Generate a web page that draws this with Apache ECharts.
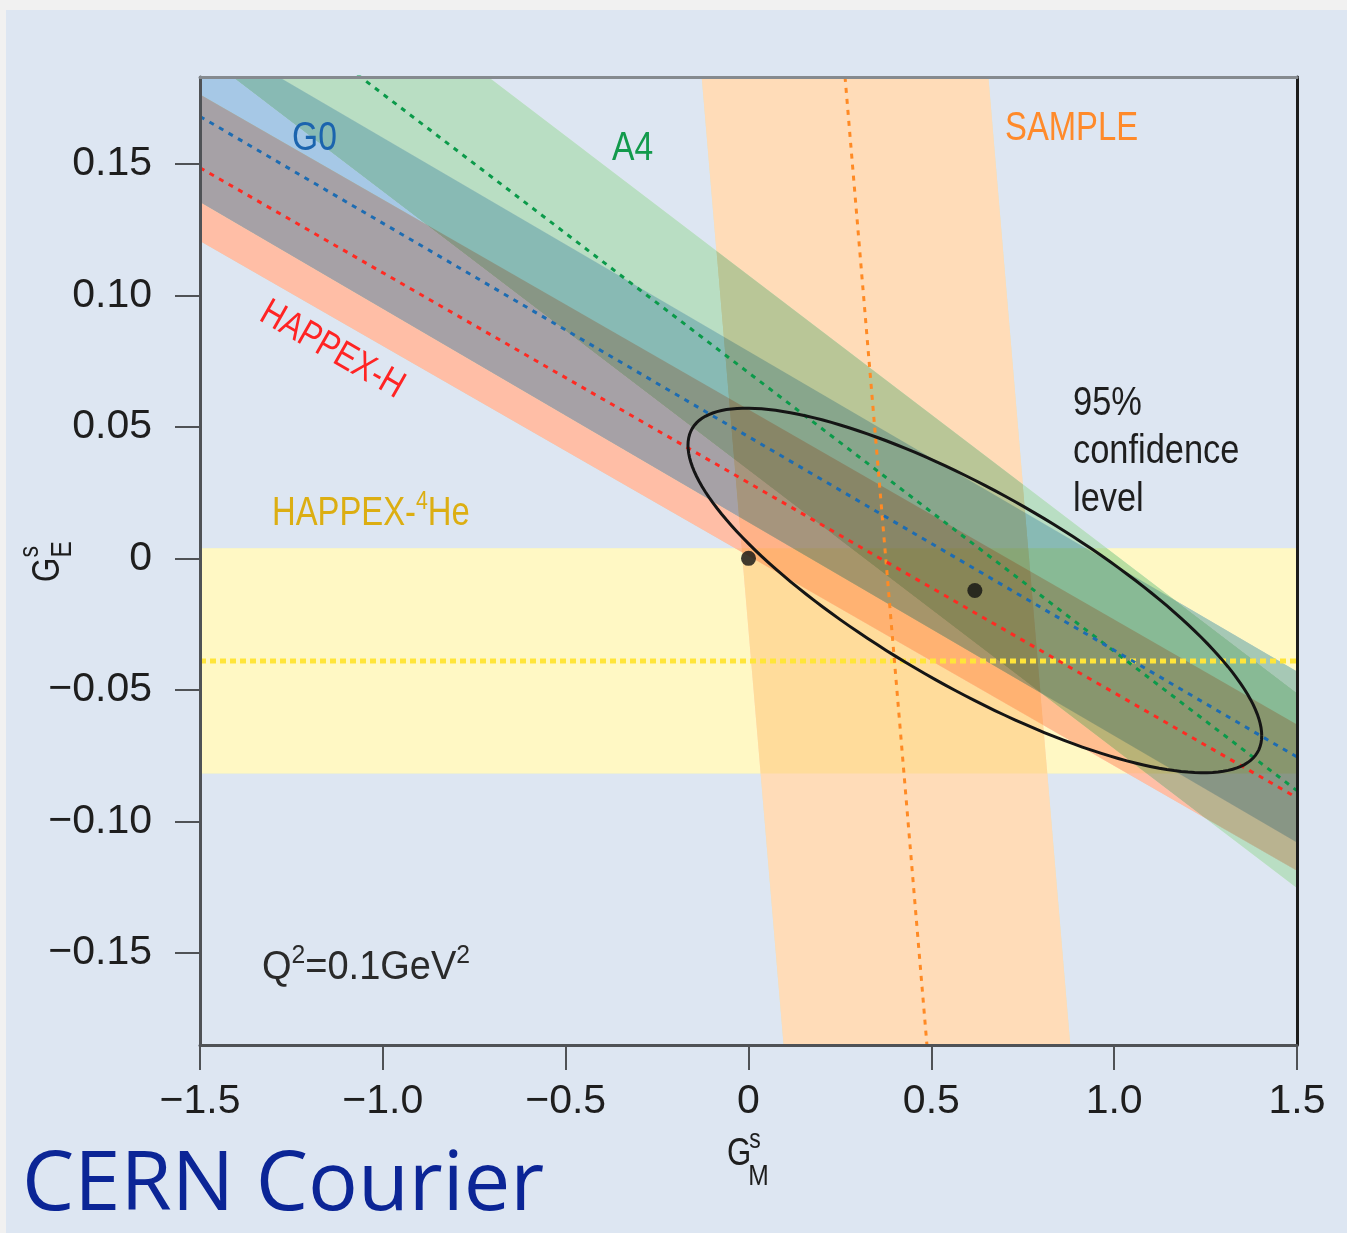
<!DOCTYPE html>
<html>
<head>
<meta charset="utf-8">
<title>Strange form factors at Q2 = 0.1 GeV2</title>
<script src="https://cdn.jsdelivr.net/npm/echarts@6/dist/echarts.min.js"></script>
<style>
  html, body { margin: 0; padding: 0; background: #dde6f2; }
  #chart { width: 1347px; height: 1233px; }
  /* every band has two canvases: a soft multiply pass, then a darken pass */
  #chart canvas[data-zr-dom-id="zr_1"],
  #chart canvas[data-zr-dom-id="zr_3"],
  #chart canvas[data-zr-dom-id="zr_5"],
  #chart canvas[data-zr-dom-id="zr_7"],
  #chart canvas[data-zr-dom-id="zr_9"] { mix-blend-mode: multiply; opacity: 0.75; }
  #chart canvas[data-zr-dom-id="zr_2"],
  #chart canvas[data-zr-dom-id="zr_4"],
  #chart canvas[data-zr-dom-id="zr_6"],
  #chart canvas[data-zr-dom-id="zr_8"],
  #chart canvas[data-zr-dom-id="zr_10"] { mix-blend-mode: darken; }
</style>
</head>
<body>
<div id="chart"></div>
<script>
// centre lines of the bands, as (G_M^s, G_E^s) end points
const g0Line = [[-1.5, 0.168], [1.5, -0.0755]];
const a4Line = [[-1.5, 0.2295], [1.5, -0.0883]];
const happexHLine = [[-1.5, 0.1485], [1.5, -0.091]];
const happexHeLine = [[-1.5, -0.039], [1.5, -0.039]];
const sampleLine = [[0.264, 0.183], [0.488, -0.185]];

// band half widths (SAMPLE is measured along G_M^s, the rest along G_E^s)
const bandNames = ['HAPPEX-4He', 'SAMPLE', 'A4', 'G0', 'HAPPEX-H'];
const bandLines = [happexHeLine, sampleLine, a4Line, g0Line, happexHLine];
const bandHalfWidths = [0.0428, 0.392, 0.037, 0.0325, 0.0278];
const bandAlongX = [false, true, false, false, false];

const bandColors = ['#fff8c4', '#ffdcb8', '#b9dec3', '#a6c8e6', '#ffbea6'];
const lineColors = ['#ffe53a', '#ff8a24', '#0b9a4a', '#1d6cb2', '#ff2a22'];

// best fit and the (0,0) point, plus the 95% ellipse (centre + conjugate semi-diameters)
const fitPoints = [[0, 0], [0.619, -0.0122]];
const ellipseCenter = [0.619, -0.0122];
const ellipseAxisA = [0.7845, -0.0552];
const ellipseAxisB = [0, 0.0419];

const xTicks = [-1.5, -1, -0.5, 0, 0.5, 1, 1.5];
const xTickLabels = ['\u22121.5', '\u22121.0', '\u22120.5', '0', '0.5', '1.0', '1.5'];
const yTicks = [-0.15, -0.1, -0.05, 0, 0.05, 0.1, 0.15];
const yTickLabels = ['\u22120.15', '\u22120.10', '\u22120.05', '0', '0.05', '0.10', '0.15'];

const sans = "'Liberation Sans', Arial, sans-serif";
const axisColor = '#4f5256';
const textColor = '#1e1e1e';
const TOP = 11; // zlevel for lines, axes and text
const narrowX = 0.82; // squeeze for the condensed lettering

function tickLabel(ticks, labels) {
  return v => {
    const k = ticks.findIndex(t => Math.abs(t - v) < 1e-9);
    return k >= 0 ? labels[k] : '';
  };
}

function bandPolygon(i) {
  const p0 = bandLines[i][0], p1 = bandLines[i][1];
  const h = bandHalfWidths[i];
  if (bandAlongX[i]) {
    return [[p0[0] - h, p0[1]], [p1[0] - h, p1[1]], [p1[0] + h, p1[1]], [p0[0] + h, p0[1]]];
  }
  return [[p0[0], p0[1] + h], [p1[0], p1[1] + h], [p1[0], p1[1] - h], [p0[0], p0[1] - h]];
}

function bandRender(fillFor) {
  return function (params, api) {
    const i = api.value(0);
    return {
      type: 'polygon',
      shape: { points: bandPolygon(i).map(p => api.coord(p)) },
      style: { fill: fillFor(i) }
    };
  };
}

// white underlay on the base layer, so the inks mix as on paper
const baseSeries = {
  type: 'custom', name: 'band base', zlevel: 0, z: 1, clip: true, silent: true,
  data: bandNames.map((n, i) => [i]),
  renderItem: bandRender(() => '#ffffff')
};

const inkSeries = [];
bandNames.forEach((n, i) => {
  [1, 2].forEach(pass => inkSeries.push({
    type: 'custom', name: n + (pass === 1 ? ' multiply' : ' darken'),
    zlevel: 2 * i + pass, z: 1, clip: true, silent: true,
    data: [[i]],
    renderItem: bandRender(k => bandColors[k])
  }));
});

const lineSeries = bandLines.map((pts, i) => ({
  type: 'line',
  name: bandNames[i] + ' centre',
  zlevel: TOP, z: 4,
  silent: true,
  symbol: 'none',
  data: pts,
  lineStyle: {
    color: lineColors[i],
    width: i === 0 ? 5 : 3,
    type: i === 0 ? [6, 4] : [5, 6]
  }
}));

function label(text, x, y, size, color, extra) {
  return Object.assign({
    type: 'text', x: x, y: y, zlevel: TOP, z: 30, scaleX: narrowX,
    style: { text: text, fontSize: size, fontFamily: sans, fill: color, verticalAlign: 'middle' }
  }, extra || {});
}

const chart = echarts.init(document.getElementById('chart'));

chart.setOption({
  animation: false,
  backgroundColor: '#dde6f2',
  grid: { left: 200, top: 77, width: 1097, height: 968, show: false },
  xAxis: [{
    type: 'value', min: -1.5, max: 1.5, position: 'bottom', zlevel: TOP, z: 10,
    axisLine: { onZero: false, lineStyle: { color: axisColor, width: 3 } },
    axisTick: { length: 25, customValues: xTicks, lineStyle: { color: axisColor, width: 2 } },
    axisLabel: {
      customValues: xTicks, formatter: tickLabel(xTicks, xTickLabels),
      margin: 36, fontSize: 41, fontFamily: sans, color: textColor
    },
    splitLine: { show: false }
  }, {
    type: 'value', min: -1.5, max: 1.5, position: 'top', zlevel: TOP, z: 10,
    axisLine: { onZero: false, lineStyle: { color: '#858a8f', width: 3 } },
    axisTick: { show: false }, axisLabel: { show: false }, splitLine: { show: false }
  }],
  yAxis: [{
    type: 'value', min: -0.185, max: 0.183, position: 'left', zlevel: TOP, z: 10,
    axisLine: { onZero: false, lineStyle: { color: axisColor, width: 3 } },
    axisTick: { length: 25, customValues: yTicks, lineStyle: { color: axisColor, width: 2 } },
    axisLabel: {
      customValues: yTicks, formatter: tickLabel(yTicks, yTickLabels),
      margin: 48, fontSize: 41, fontFamily: sans, color: textColor
    },
    splitLine: { show: false }
  }, {
    type: 'value', min: -0.185, max: 0.183, position: 'right', zlevel: TOP, z: 10,
    axisLine: { onZero: false, lineStyle: { color: '#1c1c1c', width: 3 } },
    axisTick: { show: false }, axisLabel: { show: false }, splitLine: { show: false }
  }],
  series: [baseSeries].concat(inkSeries).concat(lineSeries).concat([{
    type: 'custom',
    name: '95% confidence level',
    zlevel: TOP, z: 5,
    clip: true,
    silent: true,
    data: [ellipseCenter],
    renderItem: function (params, api) {
      const pts = [];
      for (let k = 0; k <= 180; k++) {
        const t = k / 180 * 2 * Math.PI;
        pts.push(api.coord([
          ellipseCenter[0] + ellipseAxisA[0] * Math.cos(t) + ellipseAxisB[0] * Math.sin(t),
          ellipseCenter[1] + ellipseAxisA[1] * Math.cos(t) + ellipseAxisB[1] * Math.sin(t)
        ]));
      }
      return { type: 'polyline', shape: { points: pts }, style: { stroke: '#151515', lineWidth: 3, fill: null } };
    }
  }, {
    type: 'scatter',
    name: 'points',
    zlevel: TOP, z: 6,
    silent: true,
    symbolSize: 15,
    itemStyle: { color: '#111111' },
    data: fitPoints
  }]),
  graphic: { elements: [
    { type: 'rect', zlevel: TOP, z: 30, shape: { x: 0, y: 0, width: 1347, height: 10 }, style: { fill: '#f1f1f1' } },
    { type: 'rect', zlevel: TOP, z: 30, shape: { x: 0, y: 0, width: 6, height: 1233 }, style: { fill: '#f1f1f1' } },
    label('G0', 292, 139, 41, '#1b64ae'),
    label('A4', 612, 149, 41, '#129a4c'),
    label('SAMPLE', 1005, 129, 40, '#ff8a2a'),
    label('HAPPEX-H', 332, 350, 38, '#ff2424', { rotation: -0.52, style: {
      text: 'HAPPEX-H', fontSize: 38, fontFamily: sans, fill: '#ff2424', align: 'center', verticalAlign: 'middle' } }),
    label('', 272, 514, 40, '#dcae12', { style: {
      text: '{a|HAPPEX-}{s|4}{a|He}', verticalAlign: 'middle',
      rich: {
        a: { fontSize: 40, lineHeight: 50, fontFamily: sans, fill: '#dcae12' },
        s: { fontSize: 26, lineHeight: 26, fontFamily: sans, fill: '#dcae12', verticalAlign: 'top' }
      } } }),
    label('', 1073, 380, 40, textColor, { scaleX: 0.86, style: {
      text: '95%\nconfidence\nlevel', fontSize: 40, lineHeight: 48, fontFamily: sans, fill: textColor } }),
    label('', 262, 968, 40, '#2a2a2a', { scaleX: 0.95, style: {
      text: '{a|Q}{s|2}{a|=0.1GeV}{s|2}', verticalAlign: 'middle',
      rich: {
        a: { fontSize: 40, lineHeight: 50, fontFamily: sans, fill: '#2a2a2a' },
        s: { fontSize: 26, lineHeight: 26, fontFamily: sans, fill: '#2a2a2a', verticalAlign: 'top' }
      } } }),
    // axis titles: G_M^s and G_E^s
    { type: 'group', x: 727, y: 1174, zlevel: TOP, z: 30, scaleX: narrowX, children: [
      { type: 'text', style: { text: 'G', x: 0, y: 0, fontSize: 38, fontFamily: sans, fill: textColor, verticalAlign: 'bottom' } },
      { type: 'text', style: { text: 's', x: 27, y: -20, fontSize: 28, fontFamily: sans, fill: textColor, verticalAlign: 'bottom' } },
      { type: 'text', style: { text: 'M', x: 26, y: 18, fontSize: 30, fontFamily: sans, fill: textColor, verticalAlign: 'bottom' } }
    ] },
    { type: 'group', x: 62, y: 582, rotation: Math.PI / 2, zlevel: TOP, z: 30, scaleX: narrowX, children: [
      { type: 'text', style: { text: 'G', x: 0, y: 6, fontSize: 38, fontFamily: sans, fill: textColor, verticalAlign: 'bottom' } },
      { type: 'text', style: { text: 's', x: 30, y: -18, fontSize: 28, fontFamily: sans, fill: textColor, verticalAlign: 'bottom' } },
      { type: 'text', style: { text: 'E', x: 30, y: 16, fontSize: 30, fontFamily: sans, fill: textColor, verticalAlign: 'bottom' } }
    ] },
    { type: 'text', x: 22, y: 1186, zlevel: TOP, z: 30,
      style: { text: 'CERN Courier', fontSize: 83, fontFamily: "'Comic Sans MS', 'Open Sans', sans-serif", fill: '#0b2596', verticalAlign: 'middle' } }
  ] }
});
</script>
</body>
</html>
